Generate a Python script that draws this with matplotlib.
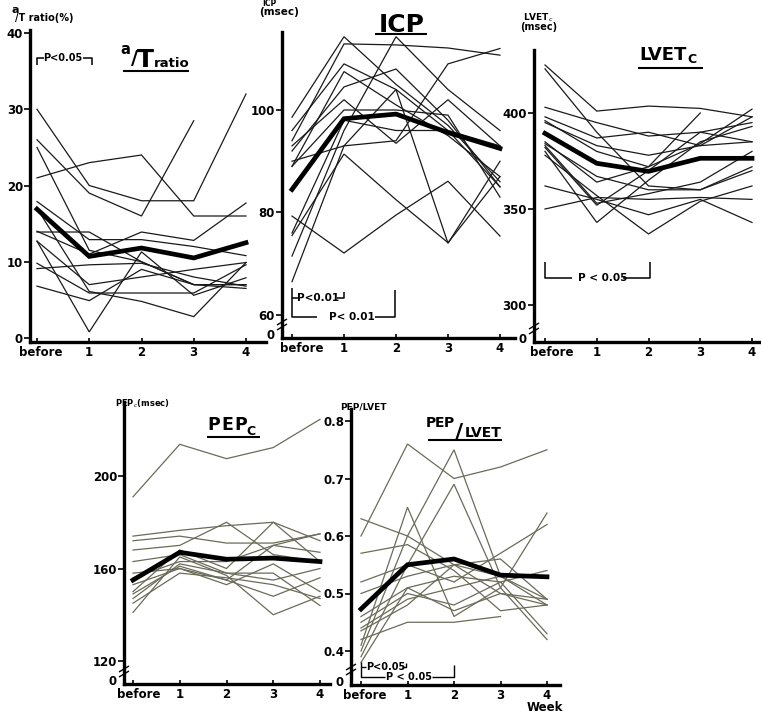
import numpy as np
import matplotlib
matplotlib.use('Agg')
import matplotlib.pyplot as plt
from matplotlib.lines import Line2D
from matplotlib import font_manager
from matplotlib.transforms import ScaledTranslation

nan = np.nan

weeks = ['before', '1', '2', '3', '4']

# a/T ratio (%)
at_ticks = [0, 10, 20, 30, 40]
at_mean = [16.9, 10.7, 11.8, 10.5, 12.5]
at_subjects = [
    [30, 20, 18, 18, 32],
    [26, 19, 16, 28.5, nan],
    [21, 23, 24, 16, 16],
    [25, 11.5, 10, 7, 7],
    [17.9, 12.9, 12.9, 12.0, 10.8],
    [13.9, 13.9, 10, 7, 6.5],
    [14, 11, 13.9, 12.8, 17.7],
    [12.7, 7.0, 8.0, 9.0, 9.9],
    [12.7, 0.8, 11.3, 5.6, 7.9],
    [9.1, 9.6, 9.8, 8.0, 6.8],
    [6.8, 4.9, 9.0, 7.0, 7.0],
    [9.8, 5.9, 5.9, 5.9, 9.6],
    [17, 6.1, 4.8, 2.8, 9.9],
]

# ICP (msec)
icp_ticks = [60, 80, 100]
icp_mean = [84.5, 98.3, 99.2, 95.6, 92.5]
icp_subjects = [
    [98.6, 114.3, 105, 97, 86],
    [94, 112.9, 112.7, 112.1, 110.7],
    [71.5, 96, 114.3, 104, 96],
    [89, 107.5, 101, 95, 87],
    [92, 104.5, 108, 98, 85],
    [90, 93, 104, 74, 90],
    [79.3, 72.1, 79.5, 86.1, 75.4],
    [75.5, 91.4, 82.5, 74.1, 87],
    [66.5, 93, 94, 109, 112],
    [89, 100, 100, 99, 83],
    [93, 102, 93.5, 102, 93],
    [96, 109, 104, 96, 85],
    [76, 98, 96, 96, 93],
]

# LVETc (msec)
lvet_ticks = [300, 350, 400]
lvet_mean = [389.4, 373.8, 369.6, 376.4, 376.4]
lvet_subjects = [
    [425, 401, 403.6, 402.4, 398],
    [423, 390, 362, 360, 370],
    [403, 395, 388, 390, 385],
    [398, 387, 390, 383, 398],
    [395, 383, 378, 383, 385],
    [396, 380, 372, 384, 402],
    [385, 364, 372, 400, nan],
    [382, 352, 370, 390, 395],
    [380, 343, 365, 385, 393],
    [384, 367, 360, 360, 372],
    [362, 355, 347, 355, 343],
    [350, 356, 355, 356, 355],
    [378, 357, 337, 354, 362],
    [383, 353, 358, 364, 380],
]

# PEPc (msec)
pep_ticks = [120, 160, 200]
pep_mean = [155, 167, 164, 164.5, 163]
pep_subjects = [
    [191, 213.7, 207.5, 212.3, 224.5],
    [174, 176.5, 178.5, 180, 172],
    [172, 174, 171, 171, 175],
    [168, 170, 180, 166, 163],
    [150, 168, 160, 180, 163],
    [156, 163, 163, 170, 167],
    [149, 161, 155, 170, 175],
    [145, 158, 156, 153, 147],
    [158, 160, 153, 162, 150],
    [141, 165, 157, 140, 148],
    [147, 162, 158, 158, 144],
    [153, 160, 155, 148, 156],
    [163, 166, 158, 155, 160],
]

# PEP/LVET
ratio_ticks = [0.4, 0.5, 0.6, 0.7, 0.8]
ratio_mean = [0.473, 0.550, 0.560, 0.532, 0.529]
ratio_subjects = [
    [0.60, 0.76, 0.70, 0.72, 0.75],
    [0.40, 0.60, 0.75, 0.53, 0.48],
    [0.39, 0.55, 0.69, 0.51, 0.42],
    [0.41, 0.65, 0.46, 0.51, 0.64],
    [0.63, 0.60, 0.55, 0.53, 0.49],
    [0.57, 0.585, 0.54, 0.47, 0.48],
    [0.52, 0.55, 0.52, 0.57, 0.62],
    [0.50, 0.53, 0.55, 0.56, 0.49],
    [0.46, 0.51, 0.53, 0.52, 0.54],
    [0.45, 0.50, 0.48, 0.52, 0.43],
    [0.44, 0.49, 0.51, 0.53, 0.53],
    [0.42, 0.45, 0.45, 0.46, nan],
    [0.435, 0.48, 0.55, 0.50, 0.48],
    [0.38, 0.51, 0.47, 0.50, 0.49],
]

# ---------------------------------------------------------------
W, H = 761, 715
fig = plt.figure(figsize=(W / 100, H / 100), dpi=100)
fig.patch.set_facecolor('white')

avail = {f.name for f in font_manager.fontManager.ttflist}
FAM = [f for f in ['DejaVu Sans Condensed', 'Liberation Sans Narrow', 'DejaVu Sans'] if f in avail] or ['DejaVu Sans']


def ftext(x, y, s, size, ha='left', va='baseline', **kw):
    fig.text(x / W, 1 - y / H, s, fontsize=size, ha=ha, va=va,
             fontweight='bold', family=FAM, **kw)


def fline(xs, ys, lw=1.2, color='black'):
    fig.add_artist(Line2D([x / W for x in xs], [1 - y / H for y in ys],
                          transform=fig.transFigure, color=color, lw=lw,
                          solid_capstyle='butt'))


def style_labels(labels, size):
    for lab in labels:
        lab.set_fontweight('bold')
        lab.set_family(FAM)
        lab.set_fontsize(size)


def make_panel(left, right, top, bottom, x0, x4, v1, p1, v2, p2, before_dx=5):
    ax = fig.add_axes([left / W, 1 - bottom / H, (right - left) / W, (bottom - top) / H])
    sx = (x4 - x0) / 4.0
    ax.set_xlim((left - x0) / sx, (right - x0) / sx)
    sy = (p1 - p2) / (v2 - v1)
    ax.set_ylim(v1 - (bottom - p1) / sy, v1 + (p1 - top) / sy)
    ax._px_per_unit = sy
    for s in ('top', 'right'):
        ax.spines[s].set_visible(False)
    for s in ('left', 'bottom'):
        ax.spines[s].set_linewidth(2.4)
    ax.patch.set_alpha(0)
    ax.set_xticks(range(5))
    ax.set_xticklabels(weeks)
    ax.tick_params(axis='x', direction='in', length=3, width=1.2, pad=3)
    ax.tick_params(axis='y', direction='out', length=4, width=1.2, pad=1)
    labs = ax.get_xticklabels()
    style_labels(labs, 8.5)
    lab0 = labs[0]
    lab0.set_transform(lab0.get_transform() + ScaledTranslation(before_dx / 100, 0, fig.dpi_scale_trans))
    return ax


def draw(ax, subjects, mean, color, lw=0.9):
    x = np.arange(5)
    for s in subjects:
        ax.plot(x, s, color=color, lw=lw, solid_joinstyle='miter')
    ax.plot(x, mean, color='black', lw=3.4, solid_joinstyle='miter', zorder=5)


def set_yt(ax, ticks, labels, broken):
    if broken:
        ticks = [ax.get_ylim()[0] + 4 / ax._px_per_unit] + list(ticks)
        labels = ['0'] + list(labels)
    ax.set_yticks(ticks)
    ax.set_yticklabels(labels)
    style_labels(ax.get_yticklabels(), 8.5)
    if broken:
        ax.yaxis.get_major_ticks()[0].tick1line.set_visible(False)


def brk(x, y):
    for d in (0, 5):
        fline([x - 5, x + 5], [y + 3 + d, y - 3 + d], lw=1.0)


# Panel 1: a/T ratio
ax1 = make_panel(30, 266, 30, 342, 37, 246, 0, 338, 40, 33, before_dx=4)
draw(ax1, at_subjects, at_mean, '#1a1a1a')
set_yt(ax1, at_ticks, [str(t) for t in at_ticks], False)

# Panel 2: ICP
ax2 = make_panel(282, 515, 32, 338, 292, 500, 60, 315, 100, 110, before_dx=10)
draw(ax2, icp_subjects, icp_mean, '#1a1a1a')
set_yt(ax2, icp_ticks, [str(t) for t in icp_ticks], True)
brk(282, 322)

# Panel 3: LVETc
ax3 = make_panel(534, 761, 50, 342, 545, 752, 300, 305, 400, 113, before_dx=7)
draw(ax3, lvet_subjects, lvet_mean, '#1a1a1a')
set_yt(ax3, lvet_ticks, [str(t) for t in lvet_ticks], True)
brk(534, 326)

# Panel 4: PEPc
ax4 = make_panel(124, 330, 402, 684, 133, 320, 120, 661, 200, 476, before_dx=6)
draw(ax4, pep_subjects, pep_mean, '#6b6b5a')
set_yt(ax4, pep_ticks, [str(t) for t in pep_ticks], True)
brk(124, 669)

# Panel 5: PEP/LVET
ax5 = make_panel(351, 560, 409, 685, 361, 547, 0.4, 651, 0.8, 421, before_dx=4)
draw(ax5, ratio_subjects, ratio_mean, '#6b6b5a')
set_yt(ax5, ratio_ticks, ['%.1f' % t for t in ratio_ticks], True)
brk(351, 667)
ftext(545, 711, 'Week', 8.5, ha='center')

# ---- titles ----
# a/T ratio
ftext(120, 54, 'a', 10.5)
ftext(131, 64, '/', 14)
ftext(137, 67, 'T', 18)
ftext(154, 67, 'ratio', 9.5)
fline([123, 189], [71, 71], lw=1.5)
# ICP
ftext(402, 32, 'ICP', 18, ha='center')
fline([375, 427], [34, 34], lw=1.5)
# LVETc
ftext(639, 60, 'LVET', 13)
ftext(687, 63, 'C', 9)
fline([638, 703], [68, 68], lw=1.5)
# PEPc
for xp, ch in zip((207, 221, 234), 'PEP'):
    ftext(xp, 430, ch, 12.5)
ftext(246, 435, 'C', 9)
fline([207, 260], [437, 437], lw=1.5)
# PEP/LVET
for xp, ch in zip((426, 435, 444), 'PEP'):
    ftext(xp, 427, ch, 10)
ftext(455, 439, '/', 16)
ftext(465, 437, 'LVET', 10)
fline([428, 502], [440, 440], lw=1.5)

# ---- axis unit labels ----
ftext(11, 13, 'a', 8)
ftext(15, 21, '/T ratio(%)', 7)
ftext(262, 6, 'ICP', 5.5)
ftext(259, 15, '(msec)', 7.5)
ftext(523, 20, 'LVET$_c$', 6.5)
ftext(520, 30, '(msec)', 7)
ftext(115, 407, 'PEP$_c$(msec)', 6)
ftext(340, 409, 'PEP/LVET', 6.5)

# ---- significance brackets ----
# panel 1
fline([37, 37, 44], [65, 58, 58], lw=1.1)
ftext(63, 61, 'P<0.05', 7, ha='center')
fline([83, 92, 92], [58, 58, 65], lw=1.1)
# panel 2
fline([292, 292, 317], [288, 317, 317], lw=1.1)
fline([292, 298], [298, 298], lw=1.1)
ftext(318, 301, 'P<0.01', 7.5, ha='center')
fline([337, 344, 344], [298, 298, 292], lw=1.1)
ftext(352, 320, 'P< 0.01', 7.5, ha='center')
fline([375, 395, 395], [317, 317, 290], lw=1.1)
# panel 3
fline([545, 545, 572], [262, 278, 278], lw=1.1)
ftext(603, 281, 'P < 0.05', 7.5, ha='center')
fline([623, 650, 650], [278, 278, 262], lw=1.1)
# panel 5
fline([361, 361, 385], [662, 677, 677], lw=1.0)
fline([361, 366], [667, 667], lw=1.0)
ftext(386, 670, 'P<0.05', 7, ha='center')
fline([402, 406, 406], [667, 667, 663], lw=1.0)
ftext(409, 680, 'P < 0.05', 7, ha='center')
fline([432, 454, 454], [677, 677, 665], lw=1.0)

fig.savefig('out.png', dpi=100, facecolor='white')
